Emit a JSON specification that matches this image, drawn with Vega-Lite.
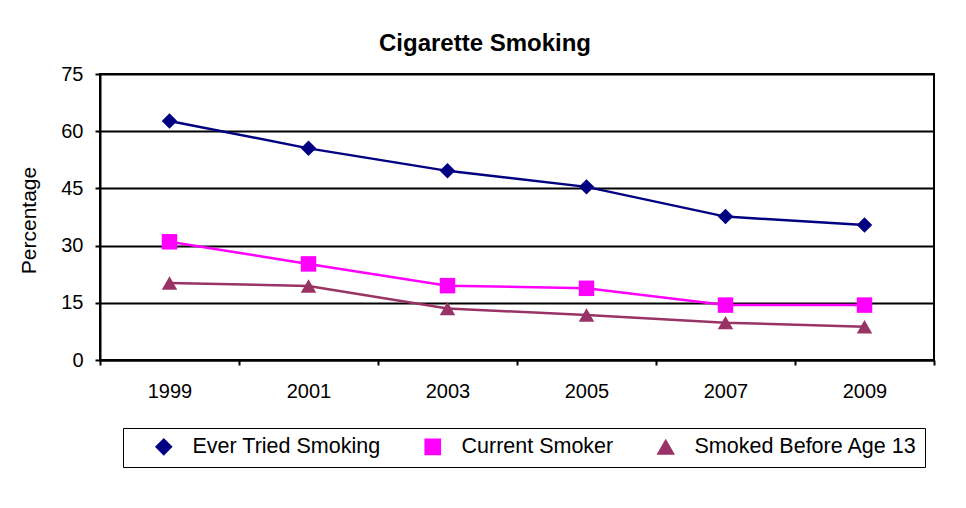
{
  "$schema": "https://vega.github.io/schema/vega-lite/v6.json",
  "width": 834,
  "height": 286,
  "autosize": "none",
  "padding": {"left": 100, "top": 74, "right": 32, "bottom": 148},
  "background": "white",
  "title": {
    "text": "Cigarette Smoking",
    "font": "Liberation Sans",
    "fontSize": 24,
    "fontWeight": "bold",
    "color": "black",
    "anchor": "middle",
    "dx": -32,
    "dy": 23,
    "offset": 12,
    "baseline": "alphabetic"
  },
  "data": {
    "values": [
      {"year": "1999", "series": "Ever Tried Smoking", "value": 62.7},
      {"year": "2001", "series": "Ever Tried Smoking", "value": 55.5},
      {"year": "2003", "series": "Ever Tried Smoking", "value": 49.6},
      {"year": "2005", "series": "Ever Tried Smoking", "value": 45.4},
      {"year": "2007", "series": "Ever Tried Smoking", "value": 37.6},
      {"year": "2009", "series": "Ever Tried Smoking", "value": 35.4},
      {"year": "1999", "series": "Current Smoker", "value": 31.0},
      {"year": "2001", "series": "Current Smoker", "value": 25.2},
      {"year": "2003", "series": "Current Smoker", "value": 19.5},
      {"year": "2005", "series": "Current Smoker", "value": 18.8},
      {"year": "2007", "series": "Current Smoker", "value": 14.4},
      {"year": "2009", "series": "Current Smoker", "value": 14.4},
      {"year": "1999", "series": "Smoked Before Age 13", "value": 20.2},
      {"year": "2001", "series": "Smoked Before Age 13", "value": 19.4},
      {"year": "2003", "series": "Smoked Before Age 13", "value": 13.5},
      {"year": "2005", "series": "Smoked Before Age 13", "value": 11.8},
      {"year": "2007", "series": "Smoked Before Age 13", "value": 9.8},
      {"year": "2009", "series": "Smoked Before Age 13", "value": 8.7}
    ]
  },
  "encoding": {
    "x": {
      "field": "year",
      "type": "ordinal",
      "scale": {"paddingInner": 0, "paddingOuter": 0},
      "axis": {
        "title": null,
        "labelAngle": 0,
        "labelFont": "Liberation Sans",
        "labelFontSize": 20,
        "labelColor": "black",
        "labelBaseline": "top",
        "labelPadding": 16,
        "tickBand": "extent",
        "tickSize": 5,
        "tickColor": "black",
        "tickWidth": 2,
        "domainColor": "black",
        "domainWidth": 2,
        "grid": false
      }
    },
    "y": {
      "field": "value",
      "type": "quantitative",
      "scale": {"domain": [0, 75], "nice": false},
      "axis": {
        "title": "Percentage",
        "titleFont": "Liberation Sans",
        "titleFontSize": 21,
        "titleFontWeight": "normal",
        "titleColor": "black",
        "titleAngle": -90,
        "titleX": -71,
        "titleY": 146,
        "titleAlign": "center",
        "titleBaseline": "middle",
        "values": [0, 15, 30, 45, 60, 75],
        "labelFont": "Liberation Sans",
        "labelFontSize": 20,
        "labelColor": "black",
        "labelPadding": 12,
        "tickSize": 5,
        "tickColor": "black",
        "tickWidth": 2,
        "domainColor": "black",
        "domainWidth": 2,
        "grid": true,
        "gridColor": "black",
        "gridWidth": 2,
        "gridOpacity": 1
      }
    },
    "color": {
      "field": "series",
      "type": "nominal",
      "scale": {
        "domain": ["Ever Tried Smoking", "Current Smoker", "Smoked Before Age 13"],
        "range": ["#000080", "#FF00FF", "#993366"]
      },
      "legend": {
        "title": null,
        "orient": "none",
        "legendX": 23,
        "legendY": 354,
        "direction": "horizontal",
        "columns": 3,
        "labelFont": "Liberation Sans",
        "labelFontSize": 21.5,
        "labelColor": "black",
        "labelLimit": 400,
        "symbolSize": 200,
        "symbolOffset": 22,
        "symbolStrokeWidth": 2.5,
        "labelOffset": 18,
        "columnPadding": 19,
        "padding": 8,
        "strokeColor": "black",
        "fillColor": "white"
      }
    }
  },
  "layer": [
    {"mark": {"type": "line", "strokeWidth": 2.5}},
    {
      "mark": {"type": "point", "filled": true, "opacity": 1, "size": 240},
      "encoding": {
        "shape": {
          "field": "series",
          "type": "nominal",
          "scale": {
            "domain": ["Ever Tried Smoking", "Current Smoker", "Smoked Before Age 13"],
            "range": ["diamond", "square", "triangle-up"]
          },
          "legend": null
        }
      }
    }
  ],
  "config": {
    "view": {"stroke": "black", "strokeWidth": 2}
  }
}
